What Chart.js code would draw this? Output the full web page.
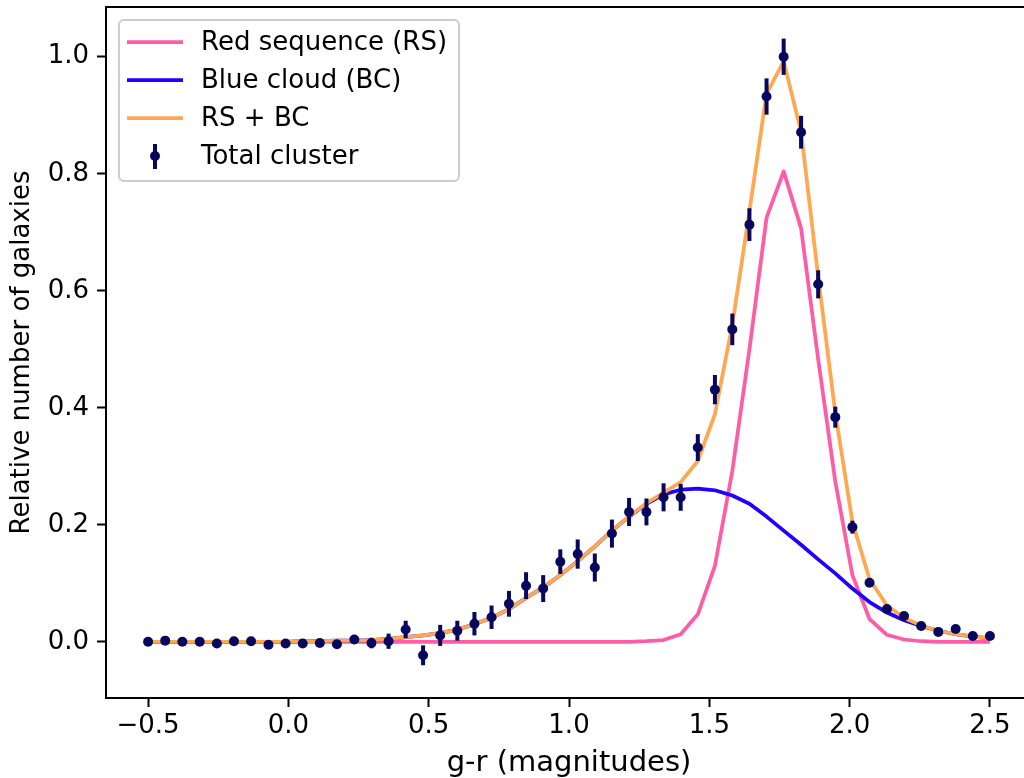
<!DOCTYPE html>
<html>
<head>
<meta charset="utf-8">
<title>g-r colour distribution</title>
<script src="https://cdn.jsdelivr.net/npm/chart.js@4"></script>
<style>
  html, body { margin: 0; padding: 0; background: #fff; overflow: hidden; }
  canvas { display: block; }
</style>
</head>
<body>
<canvas id="colourChart" width="1040" height="778"></canvas>
<script>
// ===== DATA =====
const grColour = [
  -0.500, -0.439, -0.378, -0.316, -0.255, -0.194, -0.133, -0.071, -0.010, 0.051,
   0.112,  0.173,  0.235,  0.296,  0.357,  0.418,  0.480,  0.541,  0.602, 0.663,
   0.724,  0.786,  0.847,  0.908,  0.969,  1.031,  1.092,  1.153,  1.214, 1.276,
   1.337,  1.398,  1.459,  1.520,  1.582,  1.643,  1.704,  1.765,  1.827, 1.888,
   1.949,  2.010,  2.071,  2.133,  2.194,  2.255,  2.316,  2.378,  2.439, 2.500
];

const redSequence = [
  0, 0, 0, 0, 0, 0, 0, 0, 0, 0,
  0, 0, 0, 0, 0, 0, 0, 0, 0, 0,
  0, 0, 0, 0, 0, 0, 0, 0, 0, 0.001,
  0.003, 0.013, 0.047, 0.130, 0.292, 0.500, 0.725, 0.804, 0.707, 0.483,
  0.274, 0.114, 0.039, 0.012, 0.004, 0.001, 0, 0, 0, 0
];

const blueCloud = [
  0, 0, 0, 0, 0, 0, 0, 0, 0, 0.001,
  0.001, 0.002, 0.002, 0.003, 0.005, 0.008, 0.011, 0.015, 0.021, 0.030,
  0.041, 0.056, 0.075, 0.093, 0.114, 0.138, 0.163, 0.190, 0.214, 0.236,
  0.252, 0.260, 0.262, 0.259, 0.250, 0.236, 0.214, 0.190, 0.166, 0.141,
  0.117, 0.091, 0.068, 0.050, 0.037, 0.027, 0.019, 0.013, 0.009, 0.006
];

const rsPlusBc = [
  0, 0, 0, 0, 0, 0, 0, 0, 0, 0.001,
  0.001, 0.002, 0.002, 0.003, 0.005, 0.008, 0.011, 0.015, 0.021, 0.030,
  0.041, 0.056, 0.075, 0.093, 0.114, 0.138, 0.163, 0.190, 0.214, 0.237,
  0.255, 0.273, 0.309, 0.389, 0.542, 0.736, 0.937, 0.992, 0.872, 0.624,
  0.391, 0.205, 0.107, 0.062, 0.041, 0.028, 0.019, 0.013, 0.009, 0.006
];

const totalCluster = [
  0.000, 0.002, 0.000, 0.000, -0.003, 0.001, 0.001, -0.005, -0.003, -0.003,
  -0.002, -0.004, 0.004, -0.002, 0.001, 0.021, -0.023, 0.011, 0.019, 0.031,
  0.042, 0.065, 0.096, 0.091, 0.137, 0.150, 0.127, 0.185, 0.222, 0.222,
  0.247, 0.247, 0.332, 0.431, 0.534, 0.713, 0.932, 1.000, 0.871, 0.611,
  0.384, 0.196, 0.101, 0.056, 0.044, 0.027, 0.017, 0.022, 0.010, 0.010
];

const totalError = [
  0.003, 0.003, 0.003, 0.003, 0.003, 0.003, 0.003, 0.003, 0.003, 0.003,
  0.003, 0.003, 0.005, 0.009, 0.013, 0.015, 0.017, 0.018, 0.017, 0.020,
  0.020, 0.022, 0.023, 0.023, 0.021, 0.025, 0.024, 0.024, 0.024, 0.023,
  0.024, 0.023, 0.023, 0.025, 0.027, 0.028, 0.031, 0.031, 0.028, 0.024,
  0.018, 0.011, 0.007, 0.005, 0.004, 0.004, 0.003, 0.003, 0.003, 0.003
];

const xTickValues = [-0.5, 0.0, 0.5, 1.0, 1.5, 2.0, 2.5];
const yTickValues = [0.0, 0.2, 0.4, 0.6, 0.8, 1.0];

// ===== STYLE =====
const FONT = 'DejaVu Sans';
const pink = '#ff5ca6';
const blue = '#2200ff';
const orange = '#ffa852';
const navy = '#070760';

Chart.defaults.font.family = FONT;
Chart.defaults.color = '#000';

function toPoints(values) {
  return values.map((v, i) => ({ x: grColour[i], y: v }));
}

function formatTick(v) {
  return v.toFixed(1).replace('-', '\u2212');
}

// vertical error bars for the "Total cluster" points, drawn under the markers
const errorBarPlugin = {
  id: 'errorBars',
  beforeDatasetDraw(chart, args) {
    if (args.index !== 3) return;
    const { ctx, chartArea } = chart;
    const xs = chart.scales.x, ys = chart.scales.y;
    ctx.save();
    ctx.beginPath();
    ctx.rect(chartArea.left, chartArea.top, chartArea.width, chartArea.height);
    ctx.clip();
    ctx.strokeStyle = navy;
    ctx.lineWidth = 4;
    grColour.forEach((gx, i) => {
      const px = xs.getPixelForValue(gx);
      ctx.beginPath();
      ctx.moveTo(px, ys.getPixelForValue(totalCluster[i] - totalError[i]));
      ctx.lineTo(px, ys.getPixelForValue(totalCluster[i] + totalError[i]));
      ctx.stroke();
    });
    ctx.restore();
  }
};

// top spine (right spine falls outside the window)
const framePlugin = {
  id: 'frame',
  afterDraw(chart) {
    const { ctx, chartArea } = chart;
    ctx.save();
    ctx.strokeStyle = '#000';
    ctx.lineWidth = 2;
    ctx.beginPath();
    ctx.moveTo(chartArea.left - 1, chartArea.top);
    ctx.lineTo(chartArea.right + 1, chartArea.top);
    ctx.lineTo(chartArea.right, chartArea.bottom);
    ctx.stroke();
    ctx.restore();
  }
};

// matplotlib-style legend box in the upper left
const legendPlugin = {
  id: 'mplLegend',
  afterDraw(chart) {
    const { ctx } = chart;
    const box = { x: 119, y: 20, w: 340, h: 161, r: 5 };
    ctx.save();
    ctx.fillStyle = 'rgba(255,255,255,0.8)';
    ctx.strokeStyle = '#cccccc';
    ctx.lineWidth = 2;
    ctx.beginPath();
    ctx.roundRect(box.x, box.y, box.w, box.h, box.r);
    ctx.fill();
    ctx.stroke();

    const rows = [
      { label: 'Red sequence (RS)', color: pink, kind: 'line' },
      { label: 'Blue cloud (BC)', color: blue, kind: 'line' },
      { label: 'RS + BC', color: orange, kind: 'line' },
      { label: 'Total cluster', color: navy, kind: 'errorbar' }
    ];
    ctx.font = '26px ' + FONT;
    ctx.textBaseline = 'middle';
    rows.forEach((row, i) => {
      const cy = 42 + i * 38;
      ctx.strokeStyle = row.color;
      if (row.kind === 'line') {
        ctx.lineWidth = 3.75;
        ctx.beginPath();
        ctx.moveTo(127, cy);
        ctx.lineTo(183, cy);
        ctx.stroke();
      } else {
        ctx.lineWidth = 4;
        ctx.beginPath();
        ctx.moveTo(155, cy - 12);
        ctx.lineTo(155, cy + 13);
        ctx.stroke();
        ctx.fillStyle = row.color;
        ctx.beginPath();
        ctx.arc(155, cy, 5, 0, Math.PI * 2);
        ctx.fill();
      }
      ctx.fillStyle = '#000';
      ctx.fillText(row.label, 201, cy + 1);
    });
    ctx.restore();
  }
};

const lineStyle = {
  showLine: true,
  pointRadius: 0,
  borderWidth: 3.75,
  borderJoinStyle: 'round',
  fill: false,
  tension: 0
};

new Chart(document.getElementById('colourChart').getContext('2d'), {
  type: 'scatter',
  data: {
    datasets: [
      { ...lineStyle, label: 'Red sequence (RS)', data: toPoints(redSequence), borderColor: pink, order: 3 },
      { ...lineStyle, label: 'Blue cloud (BC)', data: toPoints(blueCloud), borderColor: blue, order: 2 },
      { ...lineStyle, label: 'RS + BC', data: toPoints(rsPlusBc), borderColor: orange, order: 1 },
      {
        label: 'Total cluster',
        data: toPoints(totalCluster),
        showLine: false,
        pointRadius: 5,
        pointBackgroundColor: navy,
        pointBorderWidth: 0,
        order: 0
      }
    ]
  },
  options: {
    responsive: false,
    animation: false,
    events: [],
    layout: { padding: { top: 7, right: 8, left: 0, bottom: 0 } },
    plugins: {
      legend: { display: false },
      tooltip: { enabled: false }
    },
    scales: {
      x: {
        type: 'linear',
        min: -0.65,
        max: 2.65,
        afterBuildTicks: (scale) => { scale.ticks = xTickValues.map(v => ({ value: v })); },
        afterFit: (scale) => {
          scale.height = 80;
          scale.paddingLeft = 0;
          scale.paddingRight = 0;
        },
        grid: { drawOnChartArea: false, drawTicks: true, tickLength: 9, tickWidth: 2, tickColor: '#000' },
        border: { display: true, color: '#000', width: 2 },
        ticks: { font: { size: 26 }, padding: 4, maxRotation: 0, autoSkip: false, callback: formatTick },
        title: { display: true, text: 'g-r (magnitudes)', font: { size: 29, lineHeight: 1.0 }, padding: { top: 0, bottom: 0 } }
      },
      y: {
        type: 'linear',
        min: -0.096,
        max: 1.085,
        afterBuildTicks: (scale) => { scale.ticks = yTickValues.map(v => ({ value: v })); },
        afterFit: (scale) => {
          scale.width = 106;
          scale.paddingTop = 0;
          scale.paddingBottom = 0;
        },
        grid: { drawOnChartArea: false, drawTicks: true, tickLength: 9, tickWidth: 2, tickColor: '#000' },
        border: { display: true, color: '#000', width: 2 },
        ticks: { font: { size: 26 }, padding: 8, autoSkip: false, callback: formatTick },
        title: { display: true, text: 'Relative number of galaxies', font: { size: 26 }, padding: { top: 7, bottom: 0 } }
      }
    }
  },
  plugins: [errorBarPlugin, framePlugin, legendPlugin]
});
</script>
</body>
</html>
